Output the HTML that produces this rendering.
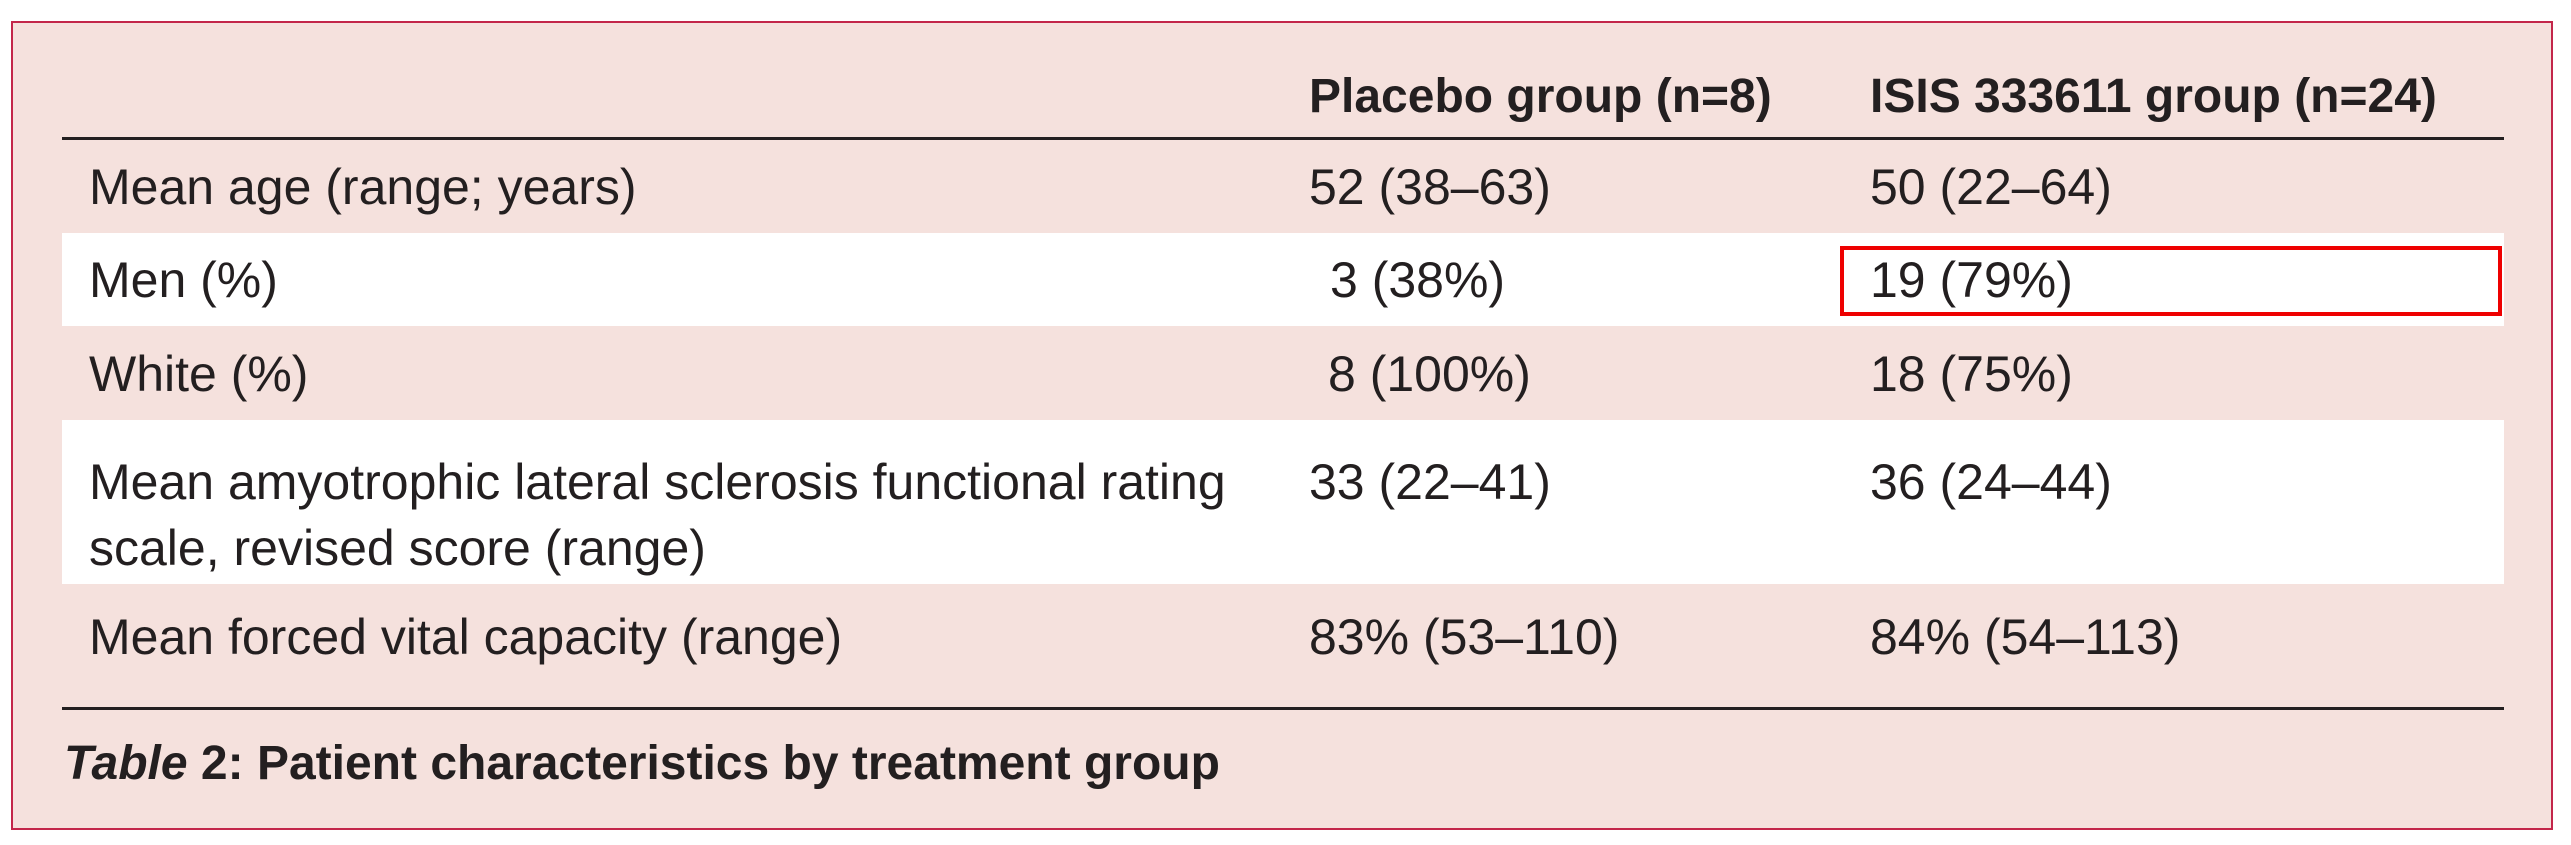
<!DOCTYPE html>
<html><head><meta charset="utf-8"><style>
body{margin:0;width:2571px;height:845px;background:#fff;position:relative;overflow:hidden;font-family:"Liberation Sans Narrow","Liberation Sans",sans-serif;color:#231f20}
#frame{position:absolute;left:11px;top:21px;width:2538px;height:805px;border:2px solid #c3264a;background:#f5e1dd}
.row{position:absolute;left:62px;width:2442px}
.white{background:#fff}
.line{position:absolute;left:62px;width:2442px;height:3px;background:#231f20}
.t{position:absolute;font-size:50px;white-space:nowrap;line-height:1}
.h{font-weight:bold}
</style></head><body>
<div id="frame"></div>
<div class="t h" style="left:1309px;top:73px;font-size:48px">Placebo group (n=8)</div>
<div class="t h" style="left:1870px;top:73px;font-size:48px">ISIS 333611 group (n=24)</div>
<div class="line" style="top:137px"></div>
<div class="row white" style="top:233px;height:93px"></div>
<div class="row white" style="top:420px;height:164px"></div>
<div class="t" style="left:89px;top:162px">Mean age (range; years)</div>
<div class="t" style="left:1309px;top:162px">52 (38–63)</div>
<div class="t" style="left:1870px;top:162px">50 (22–64)</div>
<div class="t" style="left:89px;top:255px">Men (%)</div>
<div class="t" style="left:1330px;top:255px">3 (38%)</div>
<div class="t" style="left:1870px;top:255px">19 (79%)</div>
<div style="position:absolute;left:1840px;top:246px;width:654px;height:62px;border:4px solid #ee0000"></div>
<div class="t" style="left:89px;top:349px">White (%)</div>
<div class="t" style="left:1328px;top:349px">8 (100%)</div>
<div class="t" style="left:1870px;top:349px">18 (75%)</div>
<div class="t" style="left:89px;top:449px;line-height:66px">Mean amyotrophic lateral sclerosis functional rating<br>scale, revised score (range)</div>
<div class="t" style="left:1309px;top:449px;line-height:66px">33 (22–41)</div>
<div class="t" style="left:1870px;top:449px;line-height:66px">36 (24–44)</div>
<div class="t" style="left:89px;top:612px">Mean forced vital capacity (range)</div>
<div class="t" style="left:1309px;top:612px">83% (53–110)</div>
<div class="t" style="left:1870px;top:612px">84% (54–113)</div>
<div class="line" style="top:707px"></div>
<div class="t h" style="left:64px;top:740px;font-size:48px"><i>Table</i> 2: Patient characteristics by treatment group</div>
</body></html>
